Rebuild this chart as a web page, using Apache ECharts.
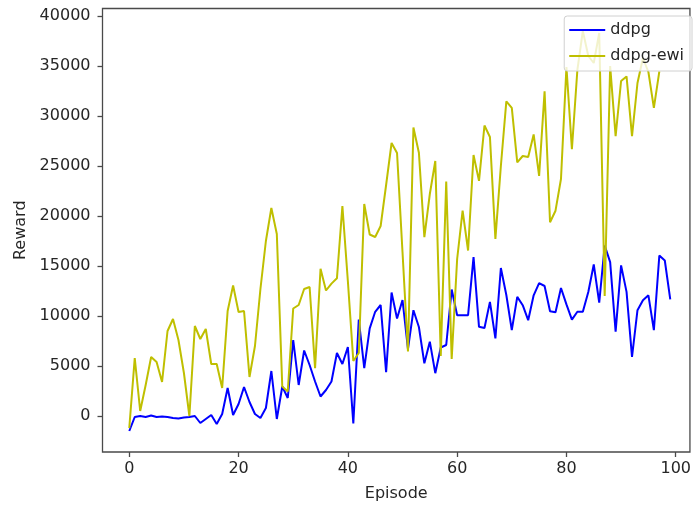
<!DOCTYPE html>
<html>
<head>
<meta charset="utf-8">
<script src="https://cdn.jsdelivr.net/npm/echarts@6/dist/echarts.min.js"></script>
<style>
html,body{margin:0;padding:0;background:#fff;overflow:hidden;}
#c{width:694px;height:507px;}
</style>
</head>
<body>
<div id="c"></div>
<script>
const seriesNames = ["ddpg", "ddpg-ewi"];
const xTicks = [0, 20, 40, 60, 80, 100];
const yTicks = [0, 5000, 10000, 15000, 20000, 25000, 30000, 35000, 40000];

const ddpg = [
  -1500, -100, 0, -100, 50, -100, -50, -100, -200, -250,
  -150, -100, 0, -700, -300, 100, -800, 200, 2800, 100,
  1200, 2900, 1400, 200, -200, 800, 4500, -300, 2950, 1800,
  7600, 3100, 6550, 5100, 3450, 1950, 2600, 3450, 6300, 5200,
  6900, -750, 9650, 4780, 8760, 10420, 11100, 4380, 12350, 9750,
  11600, 6700, 10580, 8900, 5270, 7430, 4280, 6850, 7100, 12650,
  10080, 10080, 10080, 15890, 8920, 8800, 11410, 7760, 14800, 12100,
  8590, 11910, 11080, 9580, 12070, 13280, 13000, 10480, 10380, 12800,
  11160, 9640, 10420, 10420, 12400, 15150, 11340, 17050, 15390, 8430,
  15060, 12410, 5900, 10580, 11580, 12070, 8590, 16050, 15550, 11670
];

const ddpgEwi = [
  -1200, 5800, 500, 3100, 5900, 5400, 3400, 8500, 9700, 7600,
  4300, 0, 9000, 7700, 8700, 5200, 5200, 2800, 10500, 13050,
  10400, 10500, 3900, 7000, 12700, 17500, 20800, 18200, 2950, 2450,
  10750, 11100, 12700, 12900, 4780, 14730, 12550, 13240, 13770, 21000,
  13500, 5500, 6300, 21200, 18150, 17900, 19000, 23100, 27300, 26300,
  16400, 6450, 28850, 26330, 17890, 22200, 25500, 6000, 23450, 5700,
  15700, 20530, 16550, 26100, 23510, 29050, 27900, 17710, 25000, 31470,
  30810, 25370, 26000, 25900, 28160, 24010, 32470, 19370, 20530, 23700,
  34900, 26670, 34600, 38500, 36000, 35300, 38300, 12000, 35000, 27990,
  33500, 33960, 27990, 33300, 35800, 34400, 30810, 34460
];

const toPairs = arr => arr.map((v, i) => [i, v]);

const chart = echarts.init(document.getElementById('c'), null, {renderer: 'canvas', width: 694, height: 507});
const txt = '#262626';
const frame = '#4a4a4a';
chart.setOption({
  animation: false,
  backgroundColor: '#ffffff',
  textStyle: {fontFamily: 'DejaVu Sans'},
  grid: {
    left: 102.5, right: 1.5, top: 8.5, bottom: 53,
    show: true, borderColor: frame, borderWidth: 1.3, backgroundColor: 'transparent',
    containLabel: false
  },
  legend: {
    data: seriesNames,
    orient: 'vertical',
    top: 16, right: 2,
    itemWidth: 36, itemHeight: 2, itemGap: 6, itemTextGap: 13,
    icon: 'rect',
    padding: [4, 8, 5, 5],
    backgroundColor: 'rgba(255,255,255,0.8)',
    borderColor: '#d0d0d0', borderWidth: 1, borderRadius: 3,
    textStyle: {fontSize: 16, color: txt, fontFamily: 'DejaVu Sans', lineHeight: 20}
  },
  xAxis: {
    type: 'value', min: -4.9, max: 102.6, position: 'bottom',
    name: 'Episode', nameLocation: 'middle', nameGap: 34,
    nameTextStyle: {fontSize: 16, color: txt, fontFamily: 'DejaVu Sans'},
    axisLine: {show: false, onZero: false},
    axisTick: {show: true, inside: false, customValues: xTicks, length: 5, lineStyle: {color: frame, width: 1.3}},
    axisLabel: {customValues: xTicks, fontSize: 16, color: txt, margin: 9, fontFamily: 'DejaVu Sans',
      formatter: v => String(v)},
    splitLine: {show: false}
  },
  yAxis: {
    type: 'value', min: -3600, max: 40750, position: 'left',
    name: 'Reward', nameLocation: 'middle', nameGap: 74, nameRotate: 90,
    nameTextStyle: {fontSize: 16, color: txt, fontFamily: 'DejaVu Sans'},
    axisLine: {show: false, onZero: false},
    axisTick: {show: true, inside: false, customValues: yTicks, length: 5, lineStyle: {color: frame, width: 1.3}},
    axisLabel: {customValues: yTicks, fontSize: 16, color: txt, margin: 12, fontFamily: 'DejaVu Sans',
      formatter: v => String(v)},
    splitLine: {show: false}
  },
  series: [
    {
      name: seriesNames[0], type: 'line', data: toPairs(ddpg),
      showSymbol: false, symbol: 'none',
      color: '#0000ff', lineStyle: {color: '#0000ff', width: 2}, z: 2
    },
    {
      name: seriesNames[1], type: 'line', data: toPairs(ddpgEwi),
      showSymbol: false, symbol: 'none',
      color: '#bfbf00', lineStyle: {color: '#bfbf00', width: 2}, z: 3
    }
  ]
});
</script>
</body>
</html>
